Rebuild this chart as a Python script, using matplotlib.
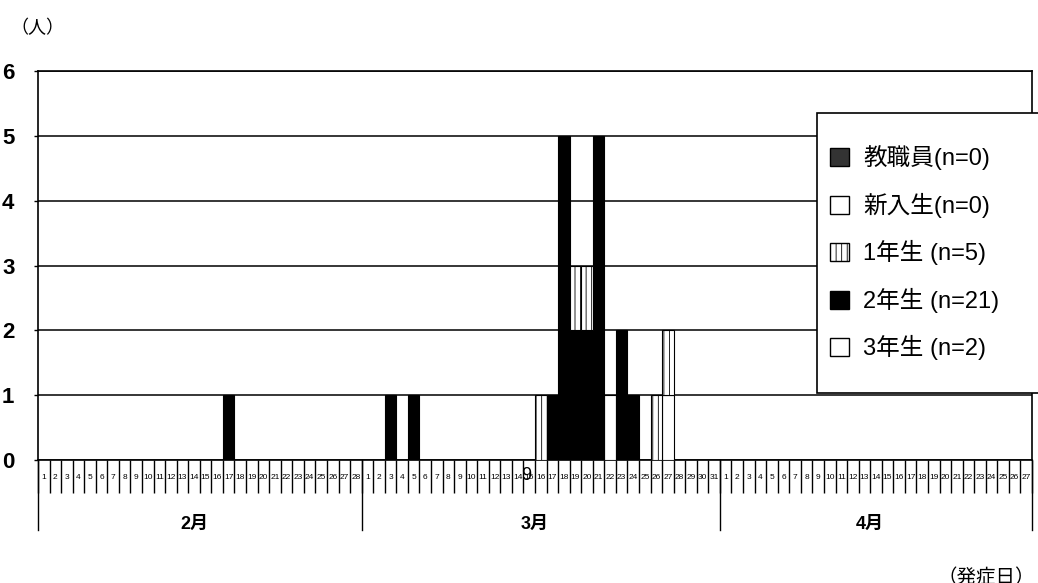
import numpy as np
import matplotlib.pyplot as plt
import matplotlib.patches as mpatches
from matplotlib.transforms import blended_transform_factory

plt.rcParams['font.family'] = ['Liberation Sans', 'Noto Sans CJK JP']
plt.rcParams['hatch.linewidth'] = 0.6

# x axis: days from Feb 1 to Apr 27
months = ['2月', '3月', '4月']
month_nums = [2, 3, 4]
month_lengths = [28, 31, 27]

# cases per onset day (m/d), one list pair per group
grade3_dates = ['3/22', '3/27']
grade3_counts = [1, 1]
grade2_dates = ['2/17', '3/3', '3/5', '3/17', '3/18', '3/19', '3/20', '3/21', '3/23', '3/24']
grade2_counts = [1, 1, 1, 1, 5, 2, 2, 5, 2, 1]
grade1_dates = ['3/16', '3/19', '3/20', '3/26', '3/27']
grade1_counts = [1, 1, 1, 1, 1]
new_dates, new_counts = [], []
staff_dates, staff_counts = [], []

legend_labels = ['教職員(n=0)', '新入生(n=0)', '1年生 (n=5)', '2年生 (n=21)', '3年生 (n=2)']

# build the day axis
day_labels = []
offsets = {}
start = 0
for m, n in zip(month_nums, month_lengths):
    offsets[m] = start
    day_labels += [str(d) for d in range(1, n + 1)]
    start += n
n_days = len(day_labels)


def to_array(dates, counts):
    arr = np.zeros(n_days)
    for s, c in zip(dates, counts):
        m, d = s.split('/')
        arr[offsets[int(m)] + int(d) - 1] = c
    return arr


g3 = to_array(grade3_dates, grade3_counts)
g2 = to_array(grade2_dates, grade2_counts)
g1 = to_array(grade1_dates, grade1_counts)
new = to_array(new_dates, new_counts)
staff = to_array(staff_dates, staff_counts)

fig = plt.figure(figsize=(10.38, 5.83), dpi=100)
ax = fig.add_axes([38 / 1038, 123 / 583, 994 / 1038, 389 / 583])
x = np.arange(n_days)

# stacked from the bottom: 3年生, 2年生, 1年生, 新入生, 教職員
styles = [
    (g3, dict(facecolor='white', edgecolor='black')),
    (g2, dict(facecolor='black', edgecolor='black')),
    (g1, dict(facecolor='white', edgecolor='black', hatch='|||')),
    (new, dict(facecolor='white', edgecolor='black')),
    (staff, dict(facecolor='#333333', edgecolor='black')),
]
bottom = np.zeros(n_days)
for vals, st in styles:
    m = vals > 0
    if m.any():
        ax.bar(x[m], vals[m], bottom=bottom[m], width=1.0, linewidth=0.8, zorder=3, **st)
    bottom += vals

ax.set_xlim(-0.5, n_days - 0.5)
ax.set_ylim(0, 6)
ax.set_yticks(range(7))
ax.tick_params(axis='y', length=3, width=1, pad=14, labelsize=16)
for t in ax.get_yticklabels():
    t.set_fontweight('bold')
ax.yaxis.grid(True, color='black', linewidth=1.1)
ax.set_axisbelow(True)
for sp in ax.spines.values():
    sp.set_linewidth(1.2)
    sp.set_color('black')

ax.set_xticks(x)
ax.set_xticklabels(day_labels, fontsize=6)
ax.tick_params(axis='x', which='major', length=0, pad=10)
ax.set_xticks(np.arange(-0.5, n_days, 1.0), minor=True)
ax.tick_params(axis='x', which='minor', length=24, width=1.0, direction='out')

# month separators and labels below the day row
tr = blended_transform_factory(ax.transData, ax.transAxes)
edges = np.concatenate([[0], np.cumsum(month_lengths)]) - 0.5
for e in edges:
    ax.plot([e, e], [0, -0.18], color='black', linewidth=1.0, transform=tr, clip_on=False)
for i, name in enumerate(months):
    mid = (edges[i] + edges[i + 1]) / 2 - 0.5
    ax.text(mid, -0.165, name, transform=tr, ha='center', va='center',
            fontsize=13, fontweight='bold')

fig.text(0.010, 0.951, '（人）', fontsize=13, ha='left', va='center')
fig.text(0.903, 0.008, '（発症日）', fontsize=14, ha='left', va='center')
fig.text(526 / 1038, 1 - 475 / 583, '9', fontsize=13, ha='center', va='center')

# legend box runs off the right edge
box = mpatches.Rectangle((817 / 1038, 1 - 393 / 583), 0.25, 280 / 583,
                         transform=fig.transFigure, facecolor='white',
                         edgecolor='black', linewidth=1.2, zorder=5)
fig.patches.append(box)
handles = [
    mpatches.Patch(facecolor='#333333', edgecolor='black'),
    mpatches.Patch(facecolor='white', edgecolor='black'),
    mpatches.Patch(facecolor='white', edgecolor='black', hatch='|||'),
    mpatches.Patch(facecolor='black', edgecolor='black'),
    mpatches.Patch(facecolor='white', edgecolor='black'),
]
leg = fig.legend(handles, legend_labels, loc='center left',
                 bbox_to_anchor=(830 / 1038, 1 - 253 / 583), frameon=False,
                 fontsize=17, handlelength=0.8, handleheight=0.8,
                 borderpad=0, borderaxespad=0,
                 handletextpad=0.6, labelspacing=0.95)
leg.set_zorder(6)

fig.savefig('out.png', dpi=100)
